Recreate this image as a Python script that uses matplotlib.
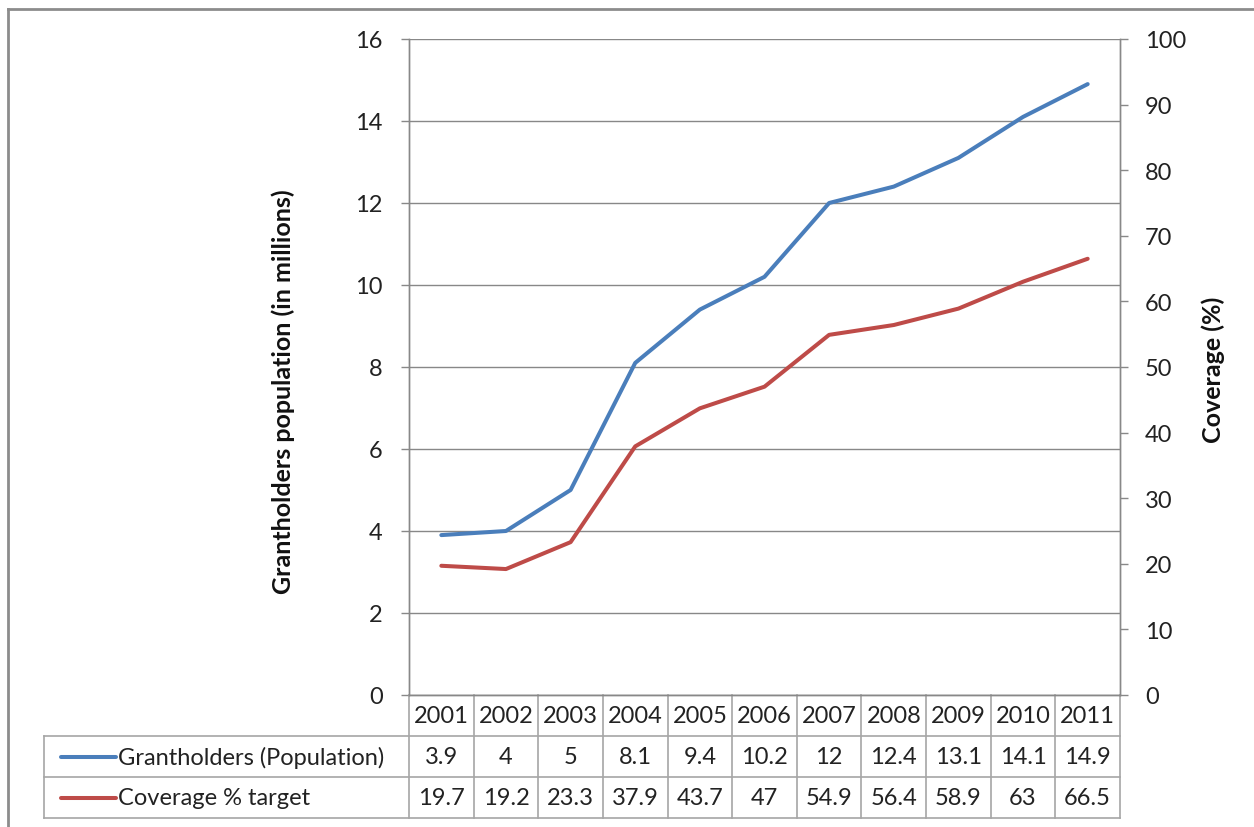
import matplotlib
matplotlib.use("Agg")
import matplotlib.pyplot as plt
from matplotlib.lines import Line2D
from matplotlib.transforms import blended_transform_factory

plt.rcParams['font.family'] = ['Lato', 'DejaVu Sans']

# data
years = ['2001', '2002', '2003', '2004', '2005', '2006', '2007', '2008', '2009', '2010', '2011']
grantholders = [3.9, 4, 5, 8.1, 9.4, 10.2, 12, 12.4, 13.1, 14.1, 14.9]
coverage = [19.7, 19.2, 23.3, 37.9, 43.7, 47, 54.9, 56.4, 58.9, 63, 66.5]
series_names = ['Grantholders (Population)', 'Coverage % target']

blue = '#4a7ebb'
red = '#be4b48'
grid_c = '#888888'
tbl_c = '#a6a6a6'
fs = 17

fig = plt.figure(figsize=(12.54, 8.28), dpi=100)
W, H = 1254, 828
ax = fig.add_axes([409 / W, 1 - 696 / H, (1120 - 409) / W, (696 - 40) / H])
ax2 = ax.twinx()

x = list(range(len(years)))
ax.plot(x, grantholders, color=blue, lw=2.9, solid_capstyle='round', zorder=3)
ax2.plot(x, coverage, color=red, lw=2.9, solid_capstyle='round', zorder=3)

ax.set_xlim(-0.5, len(years) - 0.5)
ax.set_ylim(0, 16)
ax.set_yticks(range(0, 17, 2))
ax2.set_ylim(0, 100)
ax2.set_yticks(range(0, 101, 10))
ax.set_xticks([])
ax.yaxis.grid(True, color=grid_c, lw=1)
ax.set_axisbelow(True)

for a in (ax, ax2):
    for s in a.spines.values():
        s.set_color(grid_c)
        s.set_linewidth(1)
    a.spines['top'].set_visible(False)
ax.tick_params(axis='y', length=6, width=1, color=grid_c, pad=13, labelsize=fs, labelcolor='#222222')
ax2.tick_params(axis='y', length=6, width=1, color=grid_c, pad=12, labelsize=fs, labelcolor='#222222')

fig.text(283 / W, 1 - 392 / H, 'Grantholders population (in millions)', rotation=90,
         ha='center', va='center', fontsize=18, fontweight='bold', color='#111111')
fig.text(1213 / W, 1 - 370 / H, 'Coverage (%)', rotation=90,
         ha='center', va='center', fontsize=18, fontweight='bold', color='#111111')

# data table below the plot
colw = (1120 - 409) / len(years)
px2x = lambda p: -0.5 + (p - 409) / colw
rh = 41 / 656
tr = blended_transform_factory(ax.transData, ax.transAxes)
xl = px2x(44)
xr = len(years) - 0.5

def tline(xs, ys):
    ax.add_line(Line2D(xs, ys, transform=tr, color=tbl_c, lw=1.2, clip_on=False))

for k in (1, 2, 3):
    tline([xl, xr], [-k * rh, -k * rh])
tline([xl, xl], [-rh, -3 * rh])
for i in range(len(years) + 1):
    tline([i - 0.5, i - 0.5], [0, -3 * rh])

for i, yr in enumerate(years):
    ax.text(i, -0.5 * rh, yr, transform=tr, ha='center', va='center', fontsize=fs, color='#222222')
for r, (name, vals, col) in enumerate(zip(series_names, [grantholders, coverage], [blue, red])):
    yc = -(r + 1.5) * rh
    ax.add_line(Line2D([px2x(61), px2x(116)], [yc, yc], transform=tr, color=col, lw=2.9,
                       solid_capstyle='round', clip_on=False))
    ax.text(px2x(118), yc, name, transform=tr, ha='left', va='center', fontsize=fs, color='#222222')
    for i, v in enumerate(vals):
        ax.text(i, yc, f'{v:g}', transform=tr, ha='center', va='center', fontsize=fs, color='#222222')

# chart frame (left and top edges visible)
fig.add_artist(Line2D([8 / W, 8 / W], [0, 1 - 10 / H], transform=fig.transFigure, color='#8c8c8c', lw=2))
fig.add_artist(Line2D([8 / W, 1], [1 - 10 / H, 1 - 10 / H], transform=fig.transFigure, color='#8c8c8c', lw=2))

fig.savefig('out.png', dpi=100)
